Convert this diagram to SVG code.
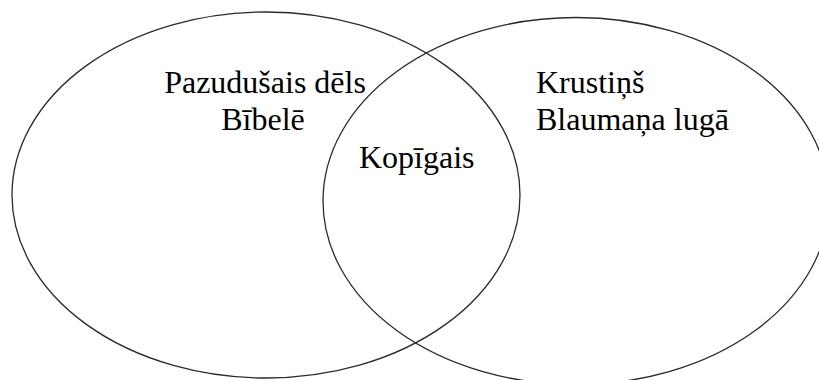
<svg xmlns="http://www.w3.org/2000/svg" width="819" height="380" viewBox="0 0 819 380">
<style>
.set{fill:none;stroke:#2a2a2a;stroke-width:1.3}
.t{font-family:"Liberation Serif","Times New Roman",serif;font-size:32px;fill:#000}
</style>
<rect width="819" height="380" fill="#fff"/>
<g id="left-set">
<ellipse class="set" cx="266" cy="195" rx="254" ry="183"/>
<text class="t" x="265" y="93" text-anchor="middle">Pazudušais dēls</text>
<text class="t" x="263" y="130" text-anchor="middle">Bībelē</text>
</g>
<g id="right-set">
<ellipse class="set" cx="576" cy="201" rx="253" ry="183.5"/>
<text class="t" x="536" y="93">Krustiņš</text>
<text class="t" x="536" y="130">Blaumaņa lugā</text>
</g>
<g id="intersection">
<text class="t" x="359" y="168">Kopīgais</text>
</g>
<g id="connectors"/>
</svg>
